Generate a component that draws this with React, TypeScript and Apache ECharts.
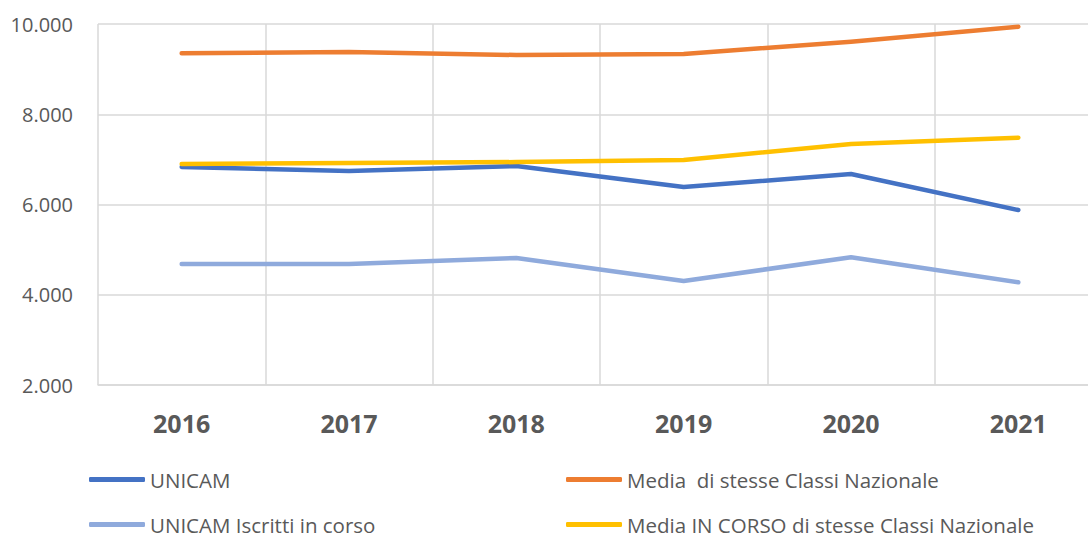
import React, { useEffect, useRef } from "react";
import * as echarts from "echarts";

const years = ["2016", "2017", "2018", "2019", "2020", "2021"];
const unicam = [6831, 6742, 6853, 6388, 6676, 5878];
const mediaNaz = [9351, 9380, 9313, 9335, 9608, 9940];
const unicamInCorso = [4681, 4681, 4814, 4305, 4830, 4276];
const mediaInCorso = [6898, 6920, 6940, 6986, 7341, 7481];

const names = [
  "UNICAM",
  "Media  di stesse Classi Nazionale",
  "UNICAM Iscritti in corso",
  "Media IN CORSO di stesse Classi Nazionale",
];
const colors = ["#4472C4", "#ED7D31", "#8FAADC", "#FFC000"];
const FONT = "'Open Sans', sans-serif";

export default function App() {
  const ref = useRef<HTMLDivElement>(null);
  useEffect(() => {
    if (!ref.current) return;
    const chart = echarts.init(ref.current, null, { renderer: "svg" });
    const mk = (i: number, data: number[]) => ({
      name: names[i],
      type: "line",
      data,
      symbol: "none",
      lineStyle: { color: colors[i], width: 4.5, cap: "round", join: "round" },
      itemStyle: { color: colors[i] },
    });
    const legendCommon = {
      orient: "horizontal",
      padding: 0,
      itemWidth: 56,
      itemHeight: 5,
      icon: "roundRect",
      textStyle: {
        fontFamily: FONT,
        fontSize: 20.5,
        color: "#595959",
        lineHeight: 20,
      },
    };
    const legendPos = [
      { left: 89, top: 469 },
      { left: 566, top: 469 },
      { left: 89, top: 514 },
      { left: 566, top: 514 },
    ];
    chart.setOption({
      animation: false,
      backgroundColor: "#ffffff",
      grid: { left: 98, right: 0, top: 24, bottom: 149 },
      legend: names.map((n, i) => ({ ...legendCommon, ...legendPos[i], data: [n] })),
      xAxis: {
        type: "category",
        data: years,
        boundaryGap: true,
        axisLine: { show: true, lineStyle: { color: "#D9D9D9", width: 1.5 } },
        axisTick: { show: false },
        splitLine: { show: true, lineStyle: { color: "#D9D9D9", width: 1.5 } },
        axisLabel: {
          fontFamily: FONT,
          fontSize: 25,
          fontWeight: "bold",
          color: "#595959",
          margin: 25,
        },
      },
      yAxis: {
        type: "value",
        min: 2000,
        max: 10000,
        interval: 2000,
        axisLine: { show: false },
        axisTick: { show: false },
        splitLine: { show: true, lineStyle: { color: "#D9D9D9", width: 1.5 } },
        axisLabel: {
          fontFamily: FONT,
          fontSize: 20,
          color: "#595959",
          margin: 25,
          formatter: (v: number) =>
            String(v).replace(/\B(?=(\d{3})+(?!\d))/g, "."),
        },
      },
      series: [
        mk(0, unicam),
        mk(1, mediaNaz),
        mk(2, unicamInCorso),
        mk(3, mediaInCorso),
      ],
    });
    return () => chart.dispose();
  }, []);
  return (
    <div
      style={{
        position: "fixed",
        left: 0,
        top: 0,
        width: 1088,
        height: 534,
        overflow: "hidden",
        background: "#fff",
      }}
    >
      <div ref={ref} style={{ width: 1102, height: 534 }} />
    </div>
  );
}
